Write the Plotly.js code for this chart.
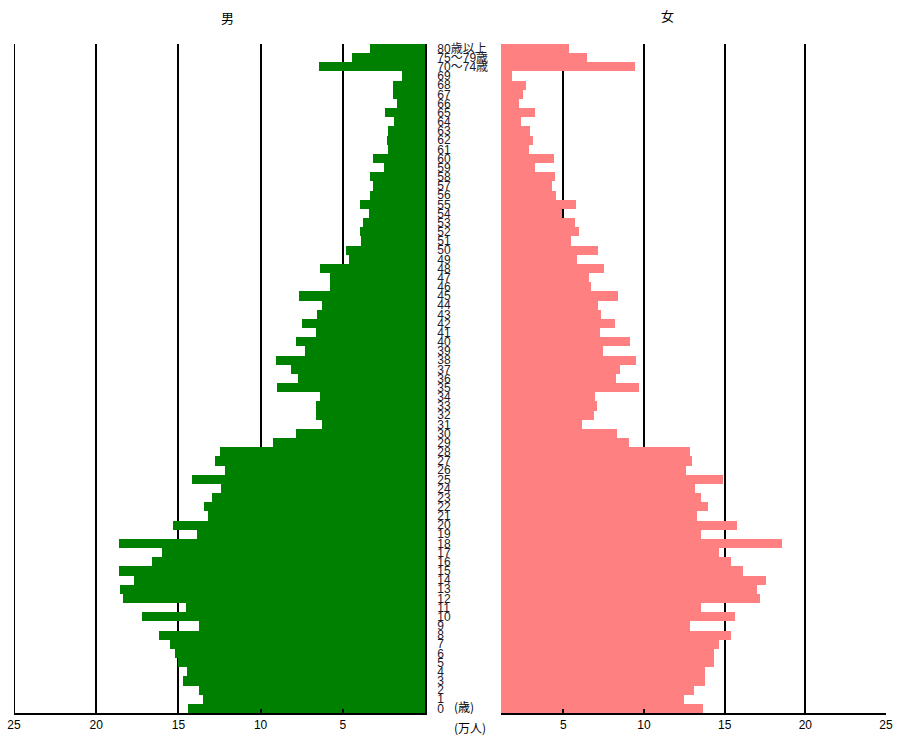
<!DOCTYPE html>
<html>
<head>
<meta charset="utf-8">
<script src="https://cdn.plot.ly/plotly-3.0.1.min.js"></script>
<style>html,body{margin:0;padding:0;background:#fff;}#chart{width:900px;height:740px;}</style>
</head>
<body>
<div id="chart"></div>
<script>
// Age categories, bottom (0) to top (80+)
const ageLabels = ['0','1','2','3','4','5','6','7','8','9',
  '10','11','12','13','14','15','16','17','18','19',
  '20','21','22','23','24','25','26','27','28','29',
  '30','31','32','33','34','35','36','37','38','39',
  '40','41','42','43','44','45','46','47','48','49',
  '50','51','52','53','54','55','56','57','58','59',
  '60','61','62','63','64','65','66','67','68','69',
  '70～74歳','75～79歳','80歳以上'];

// Male population (万人), same order as ageLabels
const maleValues = [14.41,13.48,13.72,14.70,14.49,15.00,15.18,15.49,16.20,13.76,
  17.22,14.53,18.35,18.56,17.72,18.64,16.60,16.00,18.64,13.88,
  15.33,13.17,13.46,12.97,12.40,14.19,12.17,12.80,12.46,9.23,
  7.87,6.28,6.63,6.63,6.36,9.02,7.72,8.15,9.09,7.30,
  7.87,6.65,7.50,6.57,6.28,7.66,5.79,5.79,6.36,4.63,
  4.78,3.92,3.98,3.76,3.41,3.98,3.33,3.19,3.33,2.48,
  3.19,2.26,2.34,2.26,1.91,2.42,1.69,1.97,1.97,1.40,
  6.44,4.43,3.33];

// Female population (万人), same order as ageLabels
const femaleValues = [13.64,12.45,13.09,13.81,13.77,14.32,14.32,14.67,15.41,12.88,
  15.62,13.52,17.16,17.02,17.57,16.13,15.41,14.67,18.54,13.52,
  15.76,13.31,13.95,13.52,13.15,14.92,12.59,12.98,12.86,9.07,
  8.35,6.17,6.91,7.10,6.98,9.67,8.29,8.52,9.53,7.49,
  9.16,7.26,8.21,7.33,7.12,8.42,6.69,6.60,7.55,5.86,
  7.18,5.45,5.95,5.74,4.90,5.80,4.57,4.28,4.51,3.25,
  4.42,2.90,3.11,2.96,2.39,3.25,2.26,2.53,2.67,1.81,
  9.44,6.46,5.37];

const xTickVals = [5,10,15,20,25];
const xTickText = ['5','10','15','20','25'];

const traces = [
  {type:'bar', orientation:'h', y:ageLabels, x:maleValues, xaxis:'x', yaxis:'y',
   marker:{color:'#008000', line:{width:0}}, hoverinfo:'x+y', name:'男'},
  {type:'bar', orientation:'h', y:ageLabels, x:femaleValues, xaxis:'x2', yaxis:'y',
   marker:{color:'#FF8080', line:{width:0}}, hoverinfo:'x+y', name:'女'}
];

const tickFont = {family:'Liberation Sans, Arial, sans-serif', size:12, color:'#000'};
const axisCommon = {
  tickmode:'array', tickvals:xTickVals, ticktext:xTickText,
  showgrid:true, gridcolor:'#000', gridwidth:2,
  zeroline:false, showline:true, linecolor:'#000', linewidth:2,
  ticks:'inside', ticklen:4, tickwidth:2, tickcolor:'#000',
  tickfont:tickFont, fixedrange:true
};

const layout = {
  width:900, height:740,
  margin:{l:14, r:14, t:44, b:27, pad:0},
  paper_bgcolor:'#fff', plot_bgcolor:'#fff',
  showlegend:false, bargap:0,
  font:{family:'Liberation Sans, "Noto Sans CJK JP", sans-serif', color:'#000'},
  xaxis: Object.assign({}, axisCommon, {domain:[0, 0.4713], range:[25, 0], anchor:'y'}),
  xaxis2: Object.assign({}, axisCommon, {domain:[0.5585, 1], range:[1.14, 25], anchor:'y'}),
  yaxis: {
    type:'category', categoryorder:'array', categoryarray:ageLabels,
    tickmode:'array', tickvals:ageLabels, ticktext:ageLabels,
    anchor:'x', side:'right', showgrid:false, zeroline:false,
    showline:true, linecolor:'#000', linewidth:2, ticks:'',
    ticklabelstandoff:8,
    tickfont:{family:'Liberation Sans, "Noto Sans CJK JP", sans-serif', size:12, color:'#1a1a2e'},
    range:[-0.5, 72.5], fixedrange:true
  },
  shapes:[
    {type:'line', xref:'x', yref:'paper', x0:25, x1:25, y0:0, y1:1, layer:'below',
     line:{color:'#000', width:2}}
  ],
  annotations:[
    {text:'男', xref:'paper', yref:'paper', x:0.2453, y:1.039, xanchor:'center', yanchor:'middle',
     showarrow:false, font:{family:'"Noto Sans CJK JP", sans-serif', size:13, color:'#000'}},
    {text:'女', xref:'paper', yref:'paper', x:0.7496, y:1.042, xanchor:'center', yanchor:'middle',
     showarrow:false, font:{family:'"Noto Sans CJK JP", sans-serif', size:13, color:'#000'}},
    {text:'(歳)', xref:'paper', yref:'paper', x:0.502, y:0.0097, xanchor:'left', yanchor:'middle',
     showarrow:false, font:{family:'"Noto Sans CJK JP", sans-serif', size:12, color:'#000'}},
    {text:'(万人)', xref:'paper', yref:'paper', x:0.502, y:-0.0224, xanchor:'left', yanchor:'middle',
     showarrow:false, font:{family:'"Noto Sans CJK JP", sans-serif', size:12, color:'#000'}}
  ]
};

Plotly.newPlot('chart', traces, layout, {displayModeBar:false, staticPlot:true});
</script>
</body>
</html>
